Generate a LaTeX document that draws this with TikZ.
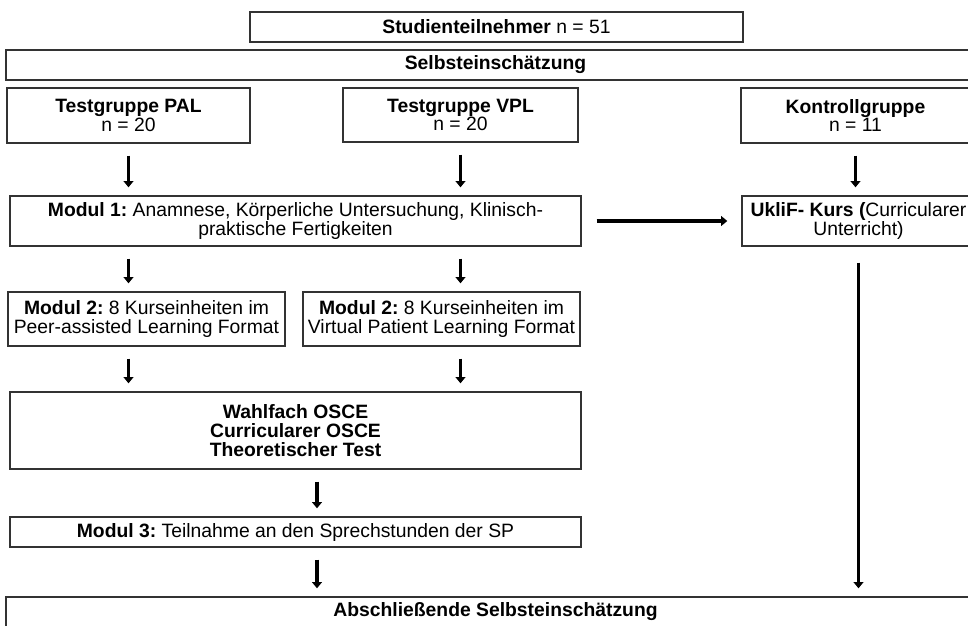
\documentclass[tikz,border=0pt]{standalone}
\usepackage{fontspec}
\setmainfont{Liberation Sans}
\frenchspacing
\usetikzlibrary{arrows.meta, positioning, calc}

\begin{document}
\begin{tikzpicture}[x=0.02cm, y=-0.02cm,
  every node/.style={font=\fontsize{11}{10.7}\selectfont, align=center, inner sep=0pt},
  box/.style={draw=black!80, line width=0.8pt, fill=white},
  flow/.style={-{Triangle[width=5.5pt,length=3.5pt]}, line width=2.1pt, shorten <=0.24cm, shorten >=0.16cm}]
\useasboundingbox (0,0) rectangle (968,626);
\clip (0,0) rectangle (968,626);

% Teilnehmer und Selbsteinschaetzung
\node[box, minimum width=9.86cm, minimum height=0.6cm] (stud) at (496.5,27) {\textbf{Studienteilnehmer} n = 51};
\node[box, minimum width=19.58cm, minimum height=0.6cm] (selbst) at (495.5,65) {\textbf{Selbsteinschätzung}};

% Gruppen
\node[box, minimum width=4.86cm, minimum height=1.1cm] (pal) at (128.5,115.5) {\textbf{Testgruppe PAL}\\n = 20};
\node[box, minimum width=4.7cm, minimum height=1.08cm] (vpl) at (460.5,115) {\textbf{Testgruppe VPL}\\n = 20};
\node[box, minimum width=4.58cm, minimum height=1.1cm] (kontr) at (855.5,115.5) {\textbf{Kontrollgruppe}\\n = 11};

% Modul 1 und UkliF
\node[box, minimum width=11.42cm, minimum height=1cm] (mod1) at (295.5,221) {\textbf{Modul 1:} Anamnese, Körperliche Untersuchung, Klinisch-\\praktische Fertigkeiten};
\node[box, minimum width=4.66cm, minimum height=1cm] (uklif) at (858.5,221) {\textbf{UkliF- Kurs (}Curricularer\\Unterricht)};

% Modul 2
\node[box, minimum width=5.54cm, minimum height=1.08cm] (mod2a) at (146.5,319) {\textbf{Modul 2:} 8 Kurseinheiten im\\Peer-assisted Learning Format};
\node[box, minimum width=5.54cm, minimum height=1.08cm] (mod2b) at (441.5,319) {\textbf{Modul 2:} 8 Kurseinheiten im\\Virtual Patient Learning Format};

% Pruefungen, Modul 3, Abschluss
\node[box, minimum width=11.42cm, minimum height=1.54cm] (tests) at (295.5,430.5) {\textbf{Wahlfach OSCE}\\\textbf{Curricularer OSCE}\\\textbf{Theoretischer Test}};
\node[box, minimum width=11.42cm, minimum height=0.6cm] (mod3) at (295.5,532) {\textbf{Modul 3:} Teilnahme an den Sprechstunden der SP};
\node[box, minimum width=19.58cm, minimum height=0.6cm] (final) at (495.5,612) {\textbf{Abschließende Selbsteinschätzung}};
\coordinate (mid) at (317,0);

% Pfeile
\draw[flow] (pal) -- (pal |- mod1.north);
\draw[flow] (vpl) -- (vpl |- mod1.north);
\draw[flow] (kontr) -- (kontr |- uklif.north);
\draw[flow] (pal |- mod1.south) -- (pal |- mod2a.north);
\draw[flow] (vpl |- mod1.south) -- (vpl |- mod2b.north);
\draw[flow] (pal |- mod2a.south) -- (pal |- tests.north);
\draw[flow] (vpl |- mod2b.south) -- (vpl |- tests.north);
\draw[flow] (mid |- tests.south) -- (mid |- mod3.north);
\draw[flow] (mid |- mod3.south) -- (mid |- final.north);
\draw[flow, shorten <=0.32cm] (uklif) -- (uklif |- final.north);
\draw[flow, shorten <=0.3cm, shorten >=0.28cm] (mod1) -- (uklif);
\end{tikzpicture}
\end{document}
